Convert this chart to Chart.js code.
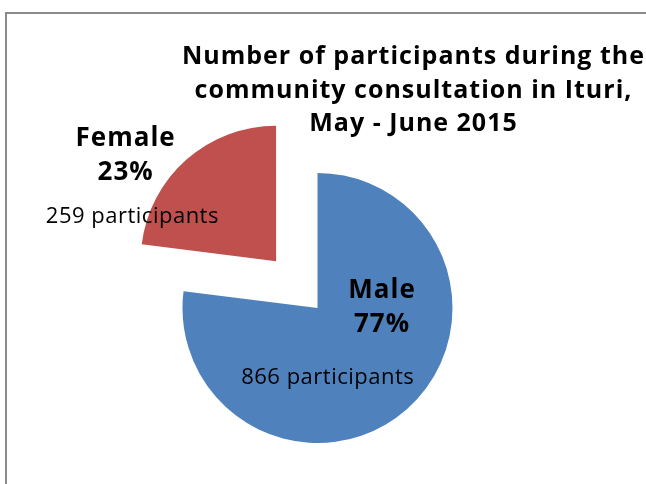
<!DOCTYPE html>
<html>
<head>
<meta charset="utf-8">
<script src="https://cdn.jsdelivr.net/npm/chart.js@4.4.1/dist/chart.umd.min.js"></script>
<style>
  html, body { margin: 0; padding: 0; background: #ffffff; }
  #wrap { position: relative; width: 646px; height: 484px; }
</style>
</head>
<body>
<div id="wrap"><canvas id="c"></canvas></div>
<script>
// ---- data ----
const categories = ['Male', 'Female'];
const participants = [866, 259];
const titleLines = ['Number of participants during the', 'community consultation in Ituri,', 'May - June 2015'];
const sliceColors = ['#4F81BD', '#C0504D'];

const total = participants.reduce((a, b) => a + b, 0);

// label layout (relative to each slice's drawn centre point)
const labelLayout = [
  { name: [64, -10], pct: [64, 24], count: [10, 76] },
  { name: [-151, -115], pct: [-151, -81], count: [-144, -38] }
];

const framePlugin = {
  id: 'frame',
  beforeDraw(chart) {
    const ctx = chart.ctx;
    ctx.save();
    ctx.fillStyle = '#ffffff';
    ctx.fillRect(0, 0, chart.width, chart.height);
    ctx.strokeStyle = '#8a8a8a';
    ctx.lineWidth = 2;
    ctx.strokeRect(6, 13, 800, 600);
    ctx.restore();
  }
};

function drawText(ctx, text, x, y, font, spacing) {
  ctx.font = font;
  ctx.letterSpacing = spacing + 'px';
  ctx.fillText(text, x + spacing / 2, y);
}

const textPlugin = {
  id: 'texts',
  afterDraw(chart) {
    const ctx = chart.ctx;
    ctx.save();
    ctx.fillStyle = '#000000';
    ctx.textAlign = 'center';
    ctx.textBaseline = 'alphabetic';
    // title
    const tx = 413, ty = [64, 98, 131];
    titleLines.forEach((l, i) => drawText(ctx, l, tx, ty[i], 'bold 25px "Open Sans"', 1));

    const meta = chart.getDatasetMeta(0);
    meta.data.forEach((arc, i) => {
      const off = (chart.data.datasets[0].offset[i] || 0) / 4;
      const half = (arc.startAngle + arc.endAngle) / 2;
      const cx = arc.x + Math.cos(half) * off;
      const cy = arc.y + Math.sin(half) * off;
      const L = labelLayout[i];
      const pct = Math.round(participants[i] / total * 100) + '%';
      drawText(ctx, categories[i], cx + L.name[0], cy + L.name[1], 'bold 26px "Open Sans"', 1);
      drawText(ctx, pct, cx + L.pct[0], cy + L.pct[1], 'bold 26px "Open Sans"', 1);
      drawText(ctx, participants[i] + ' participants', cx + L.count[0], cy + L.count[1], '22px "Open Sans"', 0.5);
    });
    ctx.restore();
  }
};

new Chart(document.getElementById('c'), {
  type: 'pie',
  data: {
    labels: categories,
    datasets: [{
      data: participants,
      backgroundColor: sliceColors,
      borderWidth: 0,
      offset: [0, 250]
    }]
  },
  options: {
    responsive: true,
    maintainAspectRatio: false,
    animation: false,
    events: [],
    radius: 135,
    layout: { padding: { top: 136, bottom: 4, left: 0, right: 11 } },
    plugins: {
      legend: { display: false },
      title: { display: false },
      tooltip: { enabled: false }
    }
  },
  plugins: [framePlugin, textPlugin]
});
</script>
</body>
</html>
